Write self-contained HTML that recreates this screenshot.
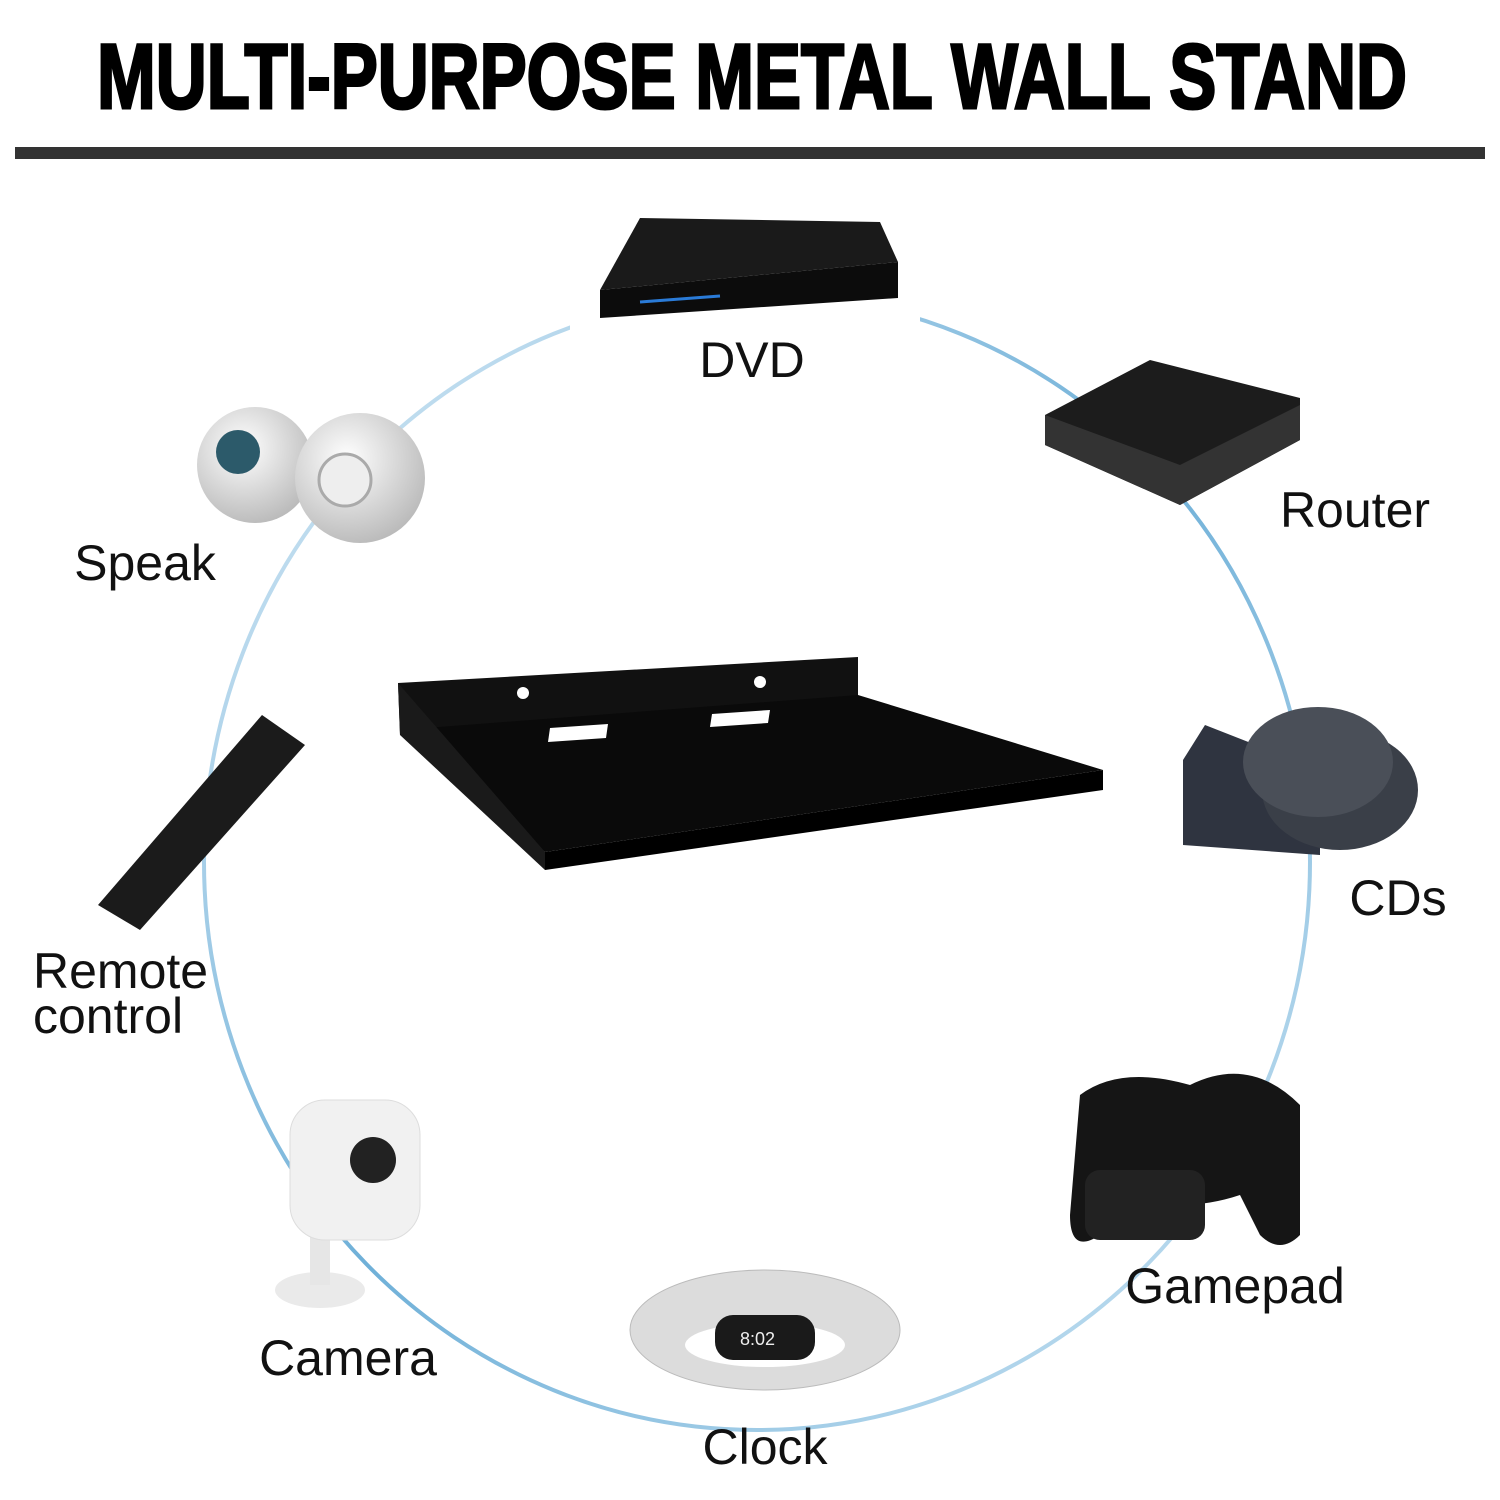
<!DOCTYPE html>
<html><head><meta charset="utf-8"><style>
html,body{margin:0;padding:0;background:#fff;}
svg{display:block;}
text{font-family:"Liberation Sans",sans-serif;}
</style></head><body>
<svg width="1500" height="1500" viewBox="0 0 1500 1500" xmlns="http://www.w3.org/2000/svg">
<defs>
<linearGradient id="ring" x1="0" y1="0" x2="1" y2="1">
<stop offset="0" stop-color="#dfeef8"/><stop offset="0.5" stop-color="#6fb0d8"/><stop offset="1" stop-color="#cfe6f4"/>
</linearGradient>
<radialGradient id="wb" cx="0.4" cy="0.35" r="0.7"><stop offset="0" stop-color="#fff"/><stop offset="1" stop-color="#b8b8b8"/></radialGradient>
</defs>
<rect width="1500" height="1500" fill="#fff"/>
<text x="752" y="108" text-anchor="middle" font-size="92" font-weight="bold" textLength="1310" lengthAdjust="spacingAndGlyphs" fill="#000" stroke="#000" stroke-width="3">MULTI-PURPOSE METAL WALL STAND</text>
<rect x="15" y="147" width="1470" height="12" fill="#333"/>

<ellipse cx="757" cy="862" rx="553" ry="568" fill="none" stroke="url(#ring)" stroke-width="4"/>

<!-- shelf -->
<polygon points="398,683 858,657 858,700 400,735" fill="#111"/>
<polygon points="400,730 858,695 1103,770 545,852" fill="#0a0a0a"/>
<polygon points="545,852 1103,770 1103,790 545,870" fill="#000"/>
<polygon points="398,683 400,735 545,870 545,852" fill="#1a1a1a"/>
<polygon points="550,728 608,724 606,738 548,742" fill="#fff"/>
<polygon points="712,714 770,710 768,723 710,727" fill="#fff"/>
<circle cx="523" cy="693" r="6" fill="#fff"/><circle cx="760" cy="682" r="6" fill="#fff"/>

<!-- DVD -->
<rect x="570" y="200" width="350" height="140" fill="#fff"/>
<polygon points="640,218 880,222 898,262 600,290" fill="#1a1a1a"/>
<polygon points="600,290 898,262 898,298 600,318" fill="#0c0c0c"/>
<line x1="640" y1="302" x2="720" y2="296" stroke="#2a7bd8" stroke-width="3"/>
<text x="752" y="377" text-anchor="middle" font-size="50" fill="#111">DVD</text>

<!-- Router -->
<polygon points="1045,415 1150,360 1300,398 1300,440 1180,505 1045,445" fill="#1c1c1c"/>
<polygon points="1045,415 1180,465 1300,405 1300,440 1180,505 1045,445" fill="#333"/>
<text x="1355" y="527" text-anchor="middle" font-size="50" fill="#111">Router</text>

<!-- Speaker -->
<circle cx="255" cy="465" r="58" fill="url(#wb)"/>
<circle cx="238" cy="452" r="22" fill="#2c5a6a"/>
<circle cx="360" cy="478" r="65" fill="url(#wb)"/>
<circle cx="345" cy="480" r="26" fill="#eee" stroke="#aaa" stroke-width="3"/>
<text x="145" y="580" text-anchor="middle" font-size="50" fill="#111">Speak</text>

<!-- CDs -->
<polygon points="1183,845 1320,855 1320,770 1205,725 1183,760" fill="#2f3440"/>
<ellipse cx="1340" cy="790" rx="78" ry="60" fill="#3a3f48"/>
<ellipse cx="1318" cy="762" rx="75" ry="55" fill="#4a4f58"/>
<text x="1398" y="915" text-anchor="middle" font-size="50" fill="#111">CDs</text>

<!-- Remote -->
<polygon points="262,715 305,745 140,930 98,905" fill="#1b1b1b"/>
<text x="33" y="988" font-size="50" fill="#111">Remote</text>
<text x="33" y="1033" font-size="50" fill="#111">control</text>

<!-- Gamepad -->
<path d="M1080,1095 q40,-30 110,-10 q60,-30 110,20 l0,130 q-20,20 -40,0 l-20,-40 q-60,20 -120,0 l-20,40 q-30,20 -30,-20 z" fill="#151515"/>
<rect x="1085" y="1170" width="120" height="70" rx="15" fill="#222"/>
<text x="1235" y="1303" text-anchor="middle" font-size="50" fill="#111">Gamepad</text>

<!-- Camera -->
<ellipse cx="320" cy="1290" rx="45" ry="18" fill="#eaeaea"/>
<rect x="310" y="1230" width="20" height="55" fill="#e6e6e6"/>
<rect x="290" y="1100" width="130" height="140" rx="35" fill="#f1f1f1" stroke="#ddd"/>
<circle cx="373" cy="1160" r="23" fill="#222"/>
<text x="348" y="1375" text-anchor="middle" font-size="50" fill="#111">Camera</text>

<!-- Clock -->
<ellipse cx="765" cy="1330" rx="135" ry="60" fill="#dcdcdc" stroke="#bbb"/>
<ellipse cx="765" cy="1345" rx="80" ry="22" fill="#fff"/>
<rect x="715" y="1315" width="100" height="45" rx="18" fill="#1a1a1a"/>
<text x="740" y="1345" font-size="18" fill="#eee">8:02</text>
<text x="765" y="1464" text-anchor="middle" font-size="50" fill="#111">Clock</text>
</svg>
</body></html>
